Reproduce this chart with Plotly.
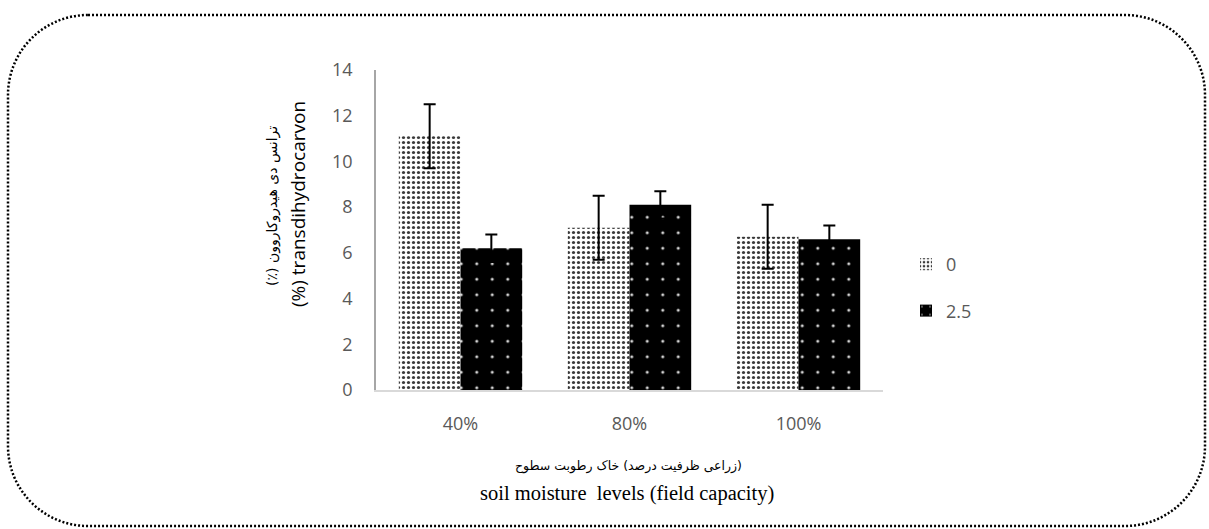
import plotly.graph_objects as go

# soil moisture levels (x categories) and the two treatment series
categories = ["40%", "80%", "100%"]
series_names = ["0", "2.5"]
values_0 = [11.1, 7.1, 6.7]
errors_0 = [1.4, 1.4, 1.4]
values_25 = [6.2, 8.1, 6.6]
errors_25 = [0.6, 0.6, 0.6]
y_ticks = [0, 2, 4, 6, 8, 10, 12, 14]

W, H = 1209, 529
L, R, T, B = 376, 326, 70, 139
PW, PH = W - L - R, H - T - B

TICK_FONT = dict(family="Open Sans, Arial, sans-serif", size=18, color="#595959")

fig = go.Figure()
fig.add_trace(go.Bar(
    name=series_names[0], x=categories, y=values_0, legendgroup="a",
    marker=dict(color="white", line=dict(width=0),
                pattern=dict(shape=".", size=5, solidity=0.33,
                             fgcolor="#3a3a3a", bgcolor="white", fillmode="replace")),
    error_y=dict(type="data", array=errors_0, visible=True,
                 color="black", thickness=2, width=6),
))
fig.add_trace(go.Bar(
    name=series_names[1], x=categories, y=values_25, legendgroup="b",
    marker=dict(color="black", line=dict(width=0),
                pattern=dict(shape=".", size=15.5, solidity=0.03,
                             fgcolor="#d8d8d8", bgcolor="black", fillmode="replace")),
    error_y=dict(type="data", array=errors_25, visible=True,
                 color="black", thickness=2, width=6),
))


def px_to_paper(px, py):
    return (px - L) / PW, (T + PH - py) / PH


def rounded_frame(x0, y0, x1, y1, r):
    k = 0.5523 * r

    def p(x, y):
        xp, yp = px_to_paper(x, y)
        return f"{xp:.5f},{yp:.5f}"

    d = f"M{p(x0 + r, y0)} L{p(x1 - r, y0)} "
    d += f"C{p(x1 - r + k, y0)} {p(x1, y0 + r - k)} {p(x1, y0 + r)} "
    d += f"L{p(x1, y1 - r)} "
    d += f"C{p(x1, y1 - r + k)} {p(x1 - r + k, y1)} {p(x1 - r, y1)} "
    d += f"L{p(x0 + r, y1)} "
    d += f"C{p(x0 + r - k, y1)} {p(x0, y1 - r + k)} {p(x0, y1 - r)} "
    d += f"L{p(x0, y0 + r)} "
    d += f"C{p(x0, y0 + r - k)} {p(x0 + r - k, y0)} {p(x0 + r, y0)} Z"
    return d


fig.add_shape(type="path", xref="paper", yref="paper",
              path=rounded_frame(8, 15, 1205, 526, 80),
              line=dict(color="black", width=2.5, dash="2px,2px"))

# axis titles (Persian + English lines)
fa_y = "ترانس دی هیدروکاروون (٪)\u200f"
en_y = "(%) transdihydrocarvon"
# LRM marks keep the Persian words of the x title in left-to-right order
fa_x = "\u200eسطوح\u200e رطوبت\u200e خاک\u200e (درصد\u200e ظرفیت\u200e زراعی)"
en_x = "soil moisture  levels (field capacity)"

ax, ay = px_to_paper(272, 206)
fig.add_annotation(x=ax, y=ay, xref="paper", yref="paper", text=fa_y, textangle=-90,
                   showarrow=False, xanchor="center", yanchor="middle",
                   font=dict(family="DejaVu Sans, sans-serif", size=14, color="black"))
ax, ay = px_to_paper(298, 204)
fig.add_annotation(x=ax, y=ay, xref="paper", yref="paper", text=en_y, textangle=-90,
                   showarrow=False, xanchor="center", yanchor="middle",
                   font=dict(family="Open Sans, sans-serif", size=19, color="black"))
ax, ay = px_to_paper(628, 466)
fig.add_annotation(x=ax, y=ay, xref="paper", yref="paper", text=fa_x,
                   showarrow=False, xanchor="center", yanchor="middle",
                   font=dict(family="DejaVu Sans, sans-serif", size=12.5, color="black"))
ax, ay = px_to_paper(627, 493)
fig.add_annotation(x=ax, y=ay, xref="paper", yref="paper", text=en_x,
                   showarrow=False, xanchor="center", yanchor="middle",
                   font=dict(family="Liberation Serif, Times New Roman, serif", size=20.5, color="black"))

lx, ly = px_to_paper(906, 246)
fig.update_layout(
    width=W, height=H,
    margin=dict(l=L, r=R, t=T, b=B),
    paper_bgcolor="white", plot_bgcolor="white",
    barmode="group", bargap=0.27, bargroupgap=0,
    showlegend=True,
    legend=dict(x=lx, y=ly, xanchor="left", yanchor="top", font=TICK_FONT,
                tracegroupgap=20, traceorder="grouped", itemwidth=30,
                bgcolor="rgba(0,0,0,0)"),
    xaxis=dict(showgrid=False, showline=True, linecolor="#d9d9d9", linewidth=2,
               ticks="outside", ticklen=16, tickcolor="rgba(0,0,0,0)",
               tickfont=TICK_FONT, zeroline=False),
    yaxis=dict(range=[0, 14], tickvals=y_ticks, showgrid=False, showline=True,
               linecolor="#a6a6a6", linewidth=1.5, ticks="outside", ticklen=18,
               tickcolor="rgba(0,0,0,0)", tickfont=TICK_FONT, zeroline=False),
)

fig.write_html("out.html")
